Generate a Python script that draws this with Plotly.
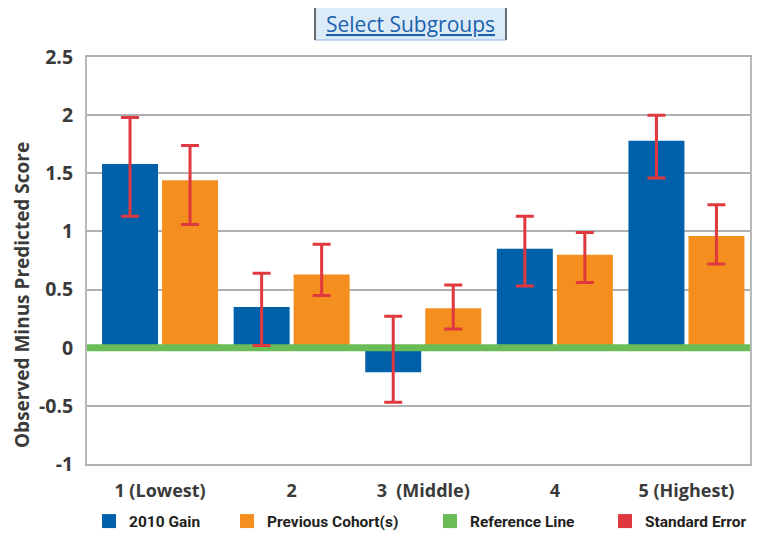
import plotly.graph_objects as go

# ---- data ----
CATEGORIES = ["1 (Lowest)", "2", "3 \u00a0(Middle)", "4", "5 (Highest)"]
GAIN_2010 = [1.58, 0.35, -0.21, 0.85, 1.78]
GAIN_2010_ERR_HI = [0.40, 0.29, 0.48, 0.28, 0.22]
GAIN_2010_ERR_LO = [0.45, 0.33, 0.26, 0.32, 0.32]
PREV_COHORT = [1.44, 0.63, 0.34, 0.80, 0.96]
PREV_COHORT_ERR_HI = [0.30, 0.26, 0.20, 0.19, 0.27]
PREV_COHORT_ERR_LO = [0.38, 0.18, 0.18, 0.24, 0.24]
REFERENCE_VALUE = 0
Y_TICKS = [-1, -0.5, 0, 0.5, 1, 1.5, 2, 2.5]
Y_TICK_LABELS = ["-1", "-0.5", "0", "0.5", "1", "1.5", "2", "2.5"]
Y_TITLE = "Observed Minus Predicted Score"
BUTTON_TEXT = "Select Subgroups"

# ---- style ----
BLUE = "#0061aa"
ORANGE = "#f48e1f"
GREEN = "#6abd56"
RED = "#e0383f"
GRID = "#b0b0b0"
TEXT = "#3a3a3a"
BARGAP = 0.088
BARGROUPGAP = 0.067
X_RANGE = [-0.555, 4.483]
OFFSET = (1 - BARGAP) / 4
PAGE_MARGIN = 8            # default body margin of the html page
W, H = 760 - PAGE_MARGIN, 534 - PAGE_MARGIN
ML, MR, MT, MB = 87 - PAGE_MARGIN, 10, 57 - PAGE_MARGIN, 70
PW, PH = W - ML - MR, H - MT - MB
TICK_FONT_X = dict(family="Open Sans, DejaVu Sans, sans-serif", size=18, color=TEXT, weight="bold")
TICK_FONT_Y = dict(family="Open Sans, DejaVu Sans, sans-serif", size=19.5, color=TEXT, weight="bold")
LEG_FONT = dict(family="Roboto, Liberation Sans, sans-serif", size=15.5,
                color="#231f20", weight="bold")


def px(rx):
    """screen x (px) -> paper fraction"""
    return (rx - PAGE_MARGIN - ML) / PW


def py(ry):
    """screen y (px) -> paper fraction"""
    return (H - MB - (ry - PAGE_MARGIN)) / PH


xs = list(range(len(CATEGORIES)))

fig = go.Figure()
fig.add_trace(go.Bar(x=xs, y=GAIN_2010, name="2010 Gain", marker=dict(color=BLUE, line=dict(width=0)),
                     showlegend=False))
fig.add_trace(go.Bar(x=xs, y=PREV_COHORT, name="Previous Cohort(s)",
                     marker=dict(color=ORANGE, line=dict(width=0)), showlegend=False))

# reference line
fig.add_trace(go.Scatter(x=X_RANGE, y=[REFERENCE_VALUE, REFERENCE_VALUE], mode="lines",
                         line=dict(color=GREEN, width=7), showlegend=False, hoverinfo="skip"))

# standard error bars (drawn above the reference line)
for vals, hi, lo, sign in [(GAIN_2010, GAIN_2010_ERR_HI, GAIN_2010_ERR_LO, -1),
                           (PREV_COHORT, PREV_COHORT_ERR_HI, PREV_COHORT_ERR_LO, 1)]:
    fig.add_trace(go.Scatter(
        x=[i + sign * OFFSET for i in xs], y=vals, mode="markers",
        marker=dict(size=1, color="rgba(0,0,0,0)"),
        error_y=dict(type="data", symmetric=False, array=hi, arrayminus=lo,
                     color=RED, thickness=3, width=9),
        showlegend=False, hoverinfo="skip"))

# legend entries (one legend each, for exact placement; x = left edge in screen px)
legend_items = [("2010 Gain", BLUE, "legend", 89),
                ("Previous Cohort(s)", ORANGE, "legend2", 227),
                ("Reference Line", GREEN, "legend3", 430),
                ("Standard Error", RED, "legend4", 605)]
for name, color, leg, _ in legend_items:
    fig.add_trace(go.Scatter(x=[None], y=[None], mode="markers", name=name,
                             marker=dict(symbol="square", size=14, color=color),
                             legend=leg, showlegend=True))

legend_layout = {}
for name, color, leg, xpx in legend_items:
    legend_layout[leg] = dict(x=(xpx - PAGE_MARGIN) / W, y=1 - (521.5 - PAGE_MARGIN) / H,
                              xref="container", yref="container",
                              xanchor="left", yanchor="middle",
                              orientation="h", font=LEG_FONT, bgcolor="rgba(0,0,0,0)",
                              itemwidth=30, borderwidth=0)

# button-like header
BX0, BX1, BY0, BY1 = 315, 506, 7, 40
shapes = [
    dict(type="rect", xref="paper", yref="paper", x0=px(BX0), x1=px(BX1), y0=py(BY1), y1=py(BY0),
         fillcolor="#dcebf8", line=dict(color="#8fb4df", width=1), layer="above"),
    dict(type="line", xref="paper", yref="paper", x0=px(BX0), x1=px(BX0), y0=py(BY1), y1=py(BY0),
         line=dict(color="#4a4a4a", width=1.5)),
    dict(type="line", xref="paper", yref="paper", x0=px(BX1), x1=px(BX1), y0=py(BY1), y1=py(BY0),
         line=dict(color="#4a4a4a", width=1.5)),
]

annotations = [
    dict(text="<u>" + BUTTON_TEXT + "</u>", xref="paper", yref="paper",
         x=px((BX0 + BX1) / 2), y=py(24), xanchor="center", yanchor="middle", showarrow=False,
         font=dict(family="Open Sans, sans-serif", size=21, color="#1a62ad")),
    dict(text=Y_TITLE, xref="paper", yref="paper",
         x=px(22), y=py(295), xanchor="center", yanchor="middle", showarrow=False, textangle=-90,
         font=dict(family="Open Sans, sans-serif", size=19, color=TEXT, weight="bold")),
]

fig.update_layout(
    width=W, height=H,
    margin=dict(l=ML, r=MR, t=MT, b=MB, autoexpand=False),
    paper_bgcolor="white", plot_bgcolor="white",
    barmode="group", bargap=BARGAP, bargroupgap=BARGROUPGAP,
    shapes=shapes,
    annotations=annotations,
    **legend_layout,
)

fig.update_xaxes(range=X_RANGE, tickvals=xs, ticktext=CATEGORIES, tickfont=TICK_FONT_X,
                 showgrid=False, zeroline=False, showline=True, mirror=True, automargin=False,
                 linecolor=GRID, linewidth=2, ticks="", ticklabelstandoff=9)
fig.update_yaxes(range=[Y_TICKS[0], Y_TICKS[-1]], tickvals=Y_TICKS, ticktext=Y_TICK_LABELS,
                 tickfont=TICK_FONT_Y, showgrid=True, gridcolor=GRID, gridwidth=2, automargin=False,
                 zeroline=False, showline=True, mirror=True, linecolor="#b9b9b9", linewidth=2,
                 ticks="", ticklabelstandoff=8)

fig.write_html("out.html")
